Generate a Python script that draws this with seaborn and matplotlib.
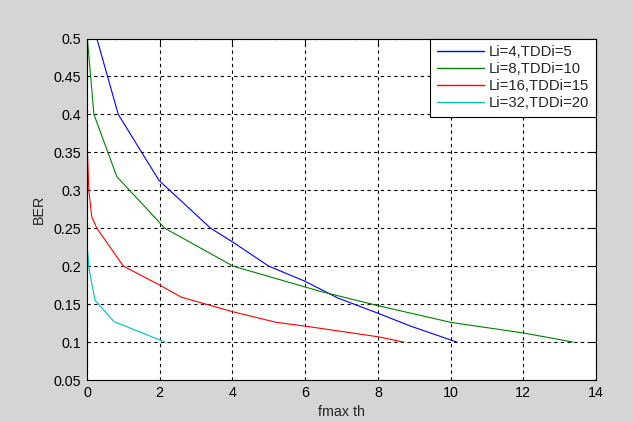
import matplotlib
matplotlib.use("Agg")
import matplotlib.pyplot as plt
import seaborn as sns
import pandas as pd

labels = ["Li=4,TDDi=5", "Li=8,TDDi=10", "Li=16,TDDi=15", "Li=32,TDDi=20"]
colors = ["#0000ff", "#008000", "#ff0000", "#00bfbf"]

x_li4 = [0.27, 0.86, 1.98, 3.4, 4.0, 5.0, 6.0, 6.9, 8.0, 8.9, 10.17]
y_li4 = [0.5, 0.4, 0.313, 0.25, 0.232, 0.2, 0.18, 0.158, 0.138, 0.121, 0.1]

x_li8 = [0.01, 0.19, 0.82, 2.14, 4.02, 6.4, 8.0, 10.0, 12.0, 13.37]
y_li8 = [0.5, 0.4, 0.318, 0.25, 0.2, 0.167, 0.148, 0.126, 0.112, 0.1]

x_li16 = [0.01, 0.05, 0.13, 0.27, 1.0, 2.0, 2.6, 4.0, 5.2, 6.0, 8.0, 8.7]
y_li16 = [0.355, 0.30, 0.265, 0.25, 0.2, 0.175, 0.159, 0.14, 0.126, 0.121, 0.107, 0.1]

x_li32 = [0.0, 0.01, 0.05, 0.22, 0.74, 2.14]
y_li32 = [0.5, 0.225, 0.198, 0.155, 0.127, 0.1]

xticks = [0, 2, 4, 6, 8, 10, 12, 14]
yticks = [0.05, 0.1, 0.15, 0.2, 0.25, 0.3, 0.35, 0.4, 0.45, 0.5]
ytick_labels = ["0.05", "0.1", "0.15", "0.2", "0.25", "0.3", "0.35", "0.4", "0.45", "0.5"]

frames = []
for lab, xs, ys in zip(labels, [x_li4, x_li8, x_li16, x_li32], [y_li4, y_li8, y_li16, y_li32]):
    frames.append(pd.DataFrame({"x": xs, "y": ys, "series": lab}))
df = pd.concat(frames, ignore_index=True)

sns.set_theme(style="white")
plt.rcParams["font.family"] = ["Liberation Sans", "DejaVu Sans"]

fig = plt.figure(figsize=(6.33, 4.22), dpi=100)
fig.patch.set_facecolor("#d5d5d5")
ax = fig.add_axes([87 / 633, 1 - 380 / 422, (596 - 87) / 633, (380 - 38.5) / 422])
ax.set_facecolor("white")

sns.lineplot(data=df, x="x", y="y", hue="series", palette=colors, sort=False,
             estimator=None, linewidth=0.8, ax=ax)

ax.set_xlim(0, 14)
ax.set_ylim(0.05, 0.5)
ax.set_xticks(xticks)
ax.set_xticklabels([str(t) for t in xticks])
ax.set_yticks(yticks)
ax.set_yticklabels(ytick_labels)
ax.grid(True, color="black", linestyle=(0, (3, 3)), linewidth=0.8)
ax.tick_params(direction="in", length=4, width=0.8, labelsize=10.3, colors="black",
               top=True, right=True, pad=4)
for s in ax.spines.values():
    s.set_color("black")
    s.set_linewidth(0.8)
ax.set_xlabel("fmax th", fontsize=10.3, labelpad=4)
ax.set_ylabel("BER", fontsize=10.3, labelpad=6)

leg = ax.legend(loc="upper right", fontsize=10.7, frameon=True, fancybox=False,
                edgecolor="black", framealpha=1, borderaxespad=0, handlelength=3.15,
                handletextpad=0.35, labelspacing=0.2, borderpad=0.45)
leg.get_frame().set_linewidth(0.8)
for line in leg.get_lines():
    line.set_linewidth(1.0)

fig.savefig("out.png", dpi=100, facecolor=fig.get_facecolor())
